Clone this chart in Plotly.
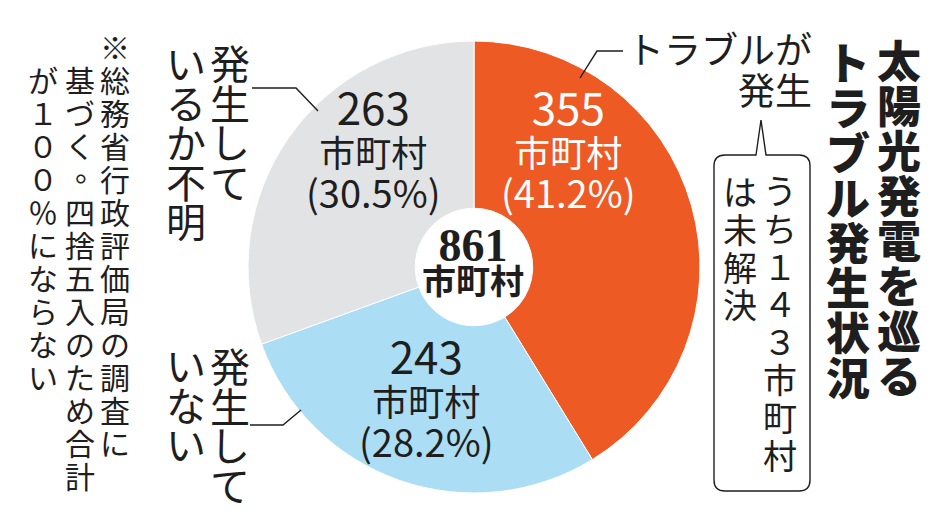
import plotly.graph_objects as go

# ---- data ----
categories = ["トラブルが発生", "発生していない", "発生しているか不明"]
values = [355, 243, 263]
percents = [41.2, 28.2, 30.5]
total = 861
unit = "市町村"
unresolved = 143

title_cols = ["太陽光発電を巡る", "トラブル発生状況"]
note_cols = ["※総務省行政評価局の調査に", "基づく。四捨五入のため合計", "が１００％にならない"]

W, H = 934, 515
def X(px): return px / W
def Y(py): return 1 - py / H

slice_colors = ["#EE5A24", "#ABDDF5", "#E2E3E5"]
DARK = "#1e1e1e"
JP = "Noto Sans CJK JP"
LS = 1.3  # plotly line spacing factor

fig = go.Figure()
fig.add_trace(go.Pie(
    values=values, labels=categories, sort=False, direction="clockwise", rotation=0,
    hole=0.26, textinfo="none", hoverinfo="label+value+percent", showlegend=False,
    marker=dict(colors=slice_colors, line=dict(color="white", width=1)),
    domain=dict(x=[X(240), X(692)], y=[Y(485), Y(33)]),
))

anns = []
def span(t, size):
    return f'<span style="font-size:{size}px">{t}</span>'

def lines(items, px, py_first, pitch, color=DARK, weight="normal", family=JP,
          xanchor="center", align="center"):
    """items: list of (text, size); lines spaced by `pitch` pixels."""
    base = pitch / LS
    n = len(items)
    text = "<br>".join(span(t, s) for t, s in items)
    anns.append(dict(text=text, x=X(px), y=Y(py_first + (n - 1) * pitch / 2),
                     xref="paper", yref="paper", xanchor=xanchor, yanchor="middle",
                     align=align, showarrow=False, borderpad=0,
                     font=dict(family=family, size=base, color=color, weight=weight)))

def vcol(s, px, py_first, size, pitch, color=DARK, weight="normal"):
    chars = []
    for i, ch in enumerate(s):
        if ch in "。、":
            # vertical punctuation sits at the top-right of its cell
            anns.append(dict(text=ch, x=X(px + size * 0.32), y=Y(py_first + i * pitch - size * 0.32),
                             xref="paper", yref="paper", xanchor="center", yanchor="middle",
                             showarrow=False, borderpad=0,
                             font=dict(family=JP, size=size, color=color, weight=weight)))
            chars.append(("\u3000", size))
        else:
            chars.append((ch, size))
    lines(chars, px, py_first, pitch, color, weight)

# slice labels
label_pos = [(560, 97, "white"), (418, 346, DARK), (365, 97, DARK)]
for v, p, (cx, y0, col) in zip(values, percents, label_pos):
    lines([(str(v), 44), (unit, 36), (f"({p}%)", 38)], cx, y0, 41.5, col)

# center total
lines([(str(total), 46), (unit, 34)], 465, 236, 33, DARK, "bold",
      "Liberation Serif, Noto Sans CJK JP")

# title (vertical)
vcol(title_cols[0], 891, 51, 44, 45, DARK, 900)
vcol(title_cols[1], 840, 53, 44, 45, DARK, 900)

# category labels
lines([("トラブルが", 37), ("発生", 37)], 805, 40, 41, DARK, "normal", JP, "right", "right")
vcol("発生して", 222, 54, 40, 39.5)
vcol("いるか不明", 178, 54, 40, 39.5)
vcol("発生して", 222, 357, 40, 39.5)
vcol("いない", 178, 356, 40, 39.5)

# callout box text
fw = str.maketrans('0123456789', '０１２３４５６７８９')
vcol(f"うち{str(unresolved).translate(fw)}{unit}", 772, 182, 34, 37.8)
vcol("は未解決", 732, 182, 34, 37.8)

# note
vcol(note_cols[0], 107, 38, 30, 33)
vcol(note_cols[1], 72, 71, 30, 33)
vcol(note_cols[2], 35, 71, 30, 33)

def path(points):
    return "M " + " L ".join(f"{X(a):.5f},{Y(b):.5f}" for a, b in points)

shapes = []
line = dict(color=DARK, width=1.4)
for pts in [[(615, 43), (589, 43), (572, 70)],
            [(244, 80), (288, 80), (310, 103)],
            [(242, 417), (275, 417), (293, 402)]]:
    shapes.append(dict(type="path", path=path(pts), xref="paper", yref="paper", line=line))

# callout box with pointer
l, r, t, b, rr = 706, 802, 147, 483, 11
def P(a, c): return f"{X(a):.5f},{Y(c):.5f}"
box = (f"M {P(748, t)} L {P(753, 112)} L {P(758, t)} L {P(r - rr, t)} Q {P(r, t)} {P(r, t + rr)} "
       f"L {P(r, b - rr)} Q {P(r, b)} {P(r - rr, b)} L {P(l + rr, b)} Q {P(l, b)} {P(l, b - rr)} "
       f"L {P(l, t + rr)} Q {P(l, t)} {P(l + rr, t)} Z")
shapes.append(dict(type="path", path=box, xref="paper", yref="paper", line=line, fillcolor="rgba(0,0,0,0)"))

fig.update_layout(width=W, height=H, margin=dict(l=0, r=0, t=0, b=0),
                  paper_bgcolor="white", plot_bgcolor="white",
                  annotations=anns, shapes=shapes)
fig.write_html("out.html")
